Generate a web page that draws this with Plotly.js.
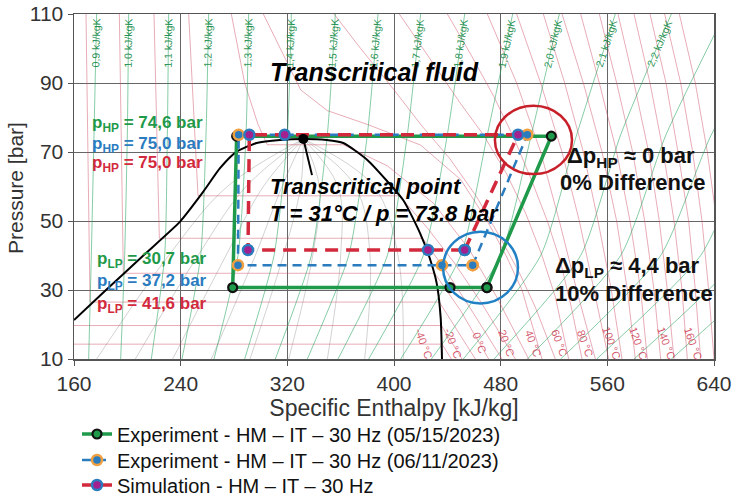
<!DOCTYPE html>
<html><head><meta charset="utf-8">
<script src="https://cdn.plot.ly/plotly-3.0.1.min.js"></script>
<style>html,body{margin:0;padding:0;background:#fff;} #chart{width:734px;height:497px;}</style>
</head><body><div id="chart"></div>
<script>
// ---------------- Cycle data (h in kJ/kg, p in bar) ----------------
const expAName = 'Experiment - HM – IT – 30 Hz (05/15/2023)';
const expAH = [469.7, 518, 282, 279, 442, 469.7];
const expAP = [30.7, 74.6, 74.6, 30.7, 30.7, 30.7];

const expBName = 'Experiment - HM – IT – 30 Hz (06/11/2023)';
const expBH = [459, 500, 283.5, 283, 436, 459];
const expBP = [37.2, 75.0, 75.0, 37.2, 37.2, 37.2];

const simName = 'Simulation - HM – IT – 30 Hz';
const simH = [453, 493, 318, 291.5, 290.5, 425.5, 453];
const simP = [41.6, 75.0, 75.0, 75.0, 41.6, 41.6, 41.6];

const critH = [332];
const critP = [73.8];

// ---------------- Saturation dome ----------------
const domeH = [160, 184, 212, 239.5, 257, 269.5, 282, 297, 314.5, 332, 349.5, 362, 380, 395, 407, 419.5, 427, 432, 435, 436];
const domeP = [21.3, 30, 40, 49.8, 58.5, 65.3, 70.1, 72.6, 73.5, 73.8, 73.5, 72.6, 67.7, 61.5, 56, 46.5, 39, 32, 22, 10];

// ---------------- Isentropes (h at p = 10, 40, 75, 110 bar) ----------------
const isentropeP = [10, 40, 75, 110];
const s0_9 = [171, 173, 175, 177];
const s1_0 = [195, 198, 200, 201];
const s1_1 = [218, 228, 230, 231];
const s1_2 = [241, 255, 259, 261];
const s1_3 = [265, 283, 289, 291];
const s1_4 = [288, 310, 320, 323];
const s1_5 = [311, 338, 350, 356];
const s1_6 = [335, 366, 380, 388];
const s1_7 = [358, 395, 410, 420];
const s1_8 = [381, 422, 440, 453];
const s1_9 = [405, 450, 470, 489];
const s2_0 = [428, 480, 503, 524];
const s2_1 = [452, 510, 537, 566];
const s2_2 = [475, 540, 570, 608];
const s2_3 = [500, 570, 604, 648];
const s2_4 = [525, 600, 638, 690];
const s2_5 = [552, 630, 672, 730];
const s2_6 = [580, 660, 706, 770];
const s2_7 = [608, 690, 740, 810];
const isentropeLabels = ['0,9','1,0','1,1','1,2','1,3','1,4','1,5','1,6','1,7','1,8','1,9','2,0','2,1','2,2'];

// ---------------- Isotherms ----------------
const tm30H = [160, 436, 443];            const tm30P = [14.3, 14.3, 10];
const tm20H = [160, 435.5, 451];          const tm20P = [19.7, 19.7, 10];
const tm10H = [169, 172, 434, 448, 461];  const tm10P = [110, 26.5, 26.5, 18, 10];
const t0H = [194, 197, 430.5, 450, 471];  const t0P = [110, 34.85, 34.85, 24, 10];
const t10H = [220, 224, 421.5, 440, 460, 481]; const t10P = [110, 45, 45, 35, 23, 10];
const t20H = [246, 250, 253, 404, 425, 445, 466, 491]; const t20P = [110, 80, 57.3, 57.3, 48, 38, 26, 10];
const t30H = [278, 288, 298, 305, 362, 395, 430, 456, 477, 501]; const t30P = [110, 90, 78, 72.1, 72.1, 66, 55, 42, 28, 10];
const t40H = [302, 315, 330, 350, 380, 420, 450, 470, 484, 496, 511]; const t40P = [110, 100, 88, 82, 78, 72, 62, 50, 40, 30, 10];
const t50H = [355, 375, 400, 420, 442, 462, 480, 494, 506, 521]; const t50P = [110, 100, 88, 78, 68, 57, 45, 35, 25, 10];
const t60H = [404, 425, 450, 467, 484, 499, 511, 521, 531]; const t60P = [110, 98, 84, 75, 64, 52, 40, 28, 10];
const t70H = [440, 458, 475, 490, 503, 515, 525, 533, 541]; const t70P = [110, 98, 86, 74, 62, 50, 38, 25, 10];
const hotP = [110, 90, 70, 50, 30, 10];
const t80H  = [470, 492, 510, 524, 537, 551];
const t90H  = [492, 510, 526, 539, 550, 561];
const t100H = [512, 528, 542, 553, 563, 571];
const t110H = [526, 542, 556, 567, 575, 581];
const t120H = [540, 554, 567, 577, 585, 590];
const t130H = [554, 567, 579, 588, 595, 600];
const t140H = [568, 580, 591, 599, 605, 610];
const t150H = [580, 592, 602, 610, 616, 620];
const t160H = [592, 604, 613, 621, 626, 630];
const t170H = [603, 615, 624, 631, 636, 640];
const t180H = [614, 626, 635, 642, 646, 650];
const isothermLabels = ['-40 °C','-20 °C','0 °C','20 °C','40 °C','60 °C','80 °C','100 °C','120 °C','140 °C','160 °C'];
const isothermLabelH = [422, 444, 464, 484, 504, 524, 543, 563, 583, 604, 624];

// ---------------- Vapour quality lines (h at p = 10, 40, 60, 73.8 bar) ----------------
const qualityP = [10, 40, 60, 73.8];
const q01 = [177, 231, 275, 332];
const q02 = [206, 253, 289, 332];
const q03 = [234, 274, 302, 332];
const q04 = [263, 296, 316, 332];
const q05 = [292, 317, 330, 332];
const q06 = [321, 339, 344, 332];
const q07 = [350, 360, 358, 332];
const q08 = [378, 382, 371, 332];
const q09 = [407, 403, 385, 332];

// ---------------- Build traces ----------------
function joinLines(list) {
  const x = [], y = [];
  list.forEach(([hs, ps]) => { hs.forEach((h, i) => { x.push(h); y.push(ps[i]); }); x.push(null); y.push(null); });
  return {x, y};
}
const isentropes = [s0_9,s1_0,s1_1,s1_2,s1_3,s1_4,s1_5,s1_6,s1_7,s1_8,s1_9,s2_0,s2_1,s2_2,s2_3,s2_4,s2_5,s2_6,s2_7];
const isoS = joinLines(isentropes.map(h => [h, isentropeP]));
const isotherms = [[tm30H,tm30P],[tm20H,tm20P],[tm10H,tm10P],[t0H,t0P],[t10H,t10P],[t20H,t20P],[t30H,t30P],
  [t40H,t40P],[t50H,t50P],[t60H,t60P],[t70H,t70P],[t80H,hotP],[t90H,hotP],[t100H,hotP],[t110H,hotP],[t120H,hotP],
  [t130H,hotP],[t140H,hotP],[t150H,hotP],[t160H,hotP],[t170H,hotP],[t180H,hotP]];
const isoT = joinLines(isotherms);
const isoQ = joinLines([q01,q02,q03,q04,q05,q06,q07,q08,q09].map(h => [h, qualityP]));

const GREEN = '#1f9a4a', BLUE = '#2b7bbf', RED = '#d22a3c', ORANGE = '#f0a040', PURPLE = '#a3208f';
const FONT = 'Liberation Sans, Arial, Helvetica, sans-serif';

const traces = [
  {x: isoQ.x, y: isoQ.y, mode: 'lines', line: {color: 'rgba(90,90,90,0.35)', width: 0.8, shape: 'spline'}, showlegend: false, hoverinfo: 'skip'},
  {x: isoT.x, y: isoT.y, mode: 'lines', line: {color: 'rgba(205,70,95,0.5)', width: 0.9, shape: 'linear'}, showlegend: false, hoverinfo: 'skip'},
  {x: isoS.x, y: isoS.y, mode: 'lines', line: {color: 'rgba(30,160,90,0.6)', width: 0.9, shape: 'spline', smoothing: 0.6}, showlegend: false, hoverinfo: 'skip'},
  {x: domeH, y: domeP, mode: 'lines', line: {color: '#000', width: 2, shape: 'spline', smoothing: 0.6}, showlegend: false, hoverinfo: 'skip'},
  {x: expAH, y: expAP, name: expAName, mode: 'lines+markers', legend: 'legend',
   line: {color: GREEN, width: 3.5}, marker: {size: 9, color: GREEN, line: {color: '#111', width: 2.2}}},
  {x: expBH, y: expBP, name: expBName, mode: 'lines+markers', legend: 'legend2',
   line: {color: BLUE, width: 2.5, dash: '9px,6px'}, marker: {size: 10, color: BLUE, line: {color: ORANGE, width: 2.5}}},
  {x: simH, y: simP, name: simName, mode: 'lines+markers', legend: 'legend3',
   line: {color: RED, width: 3.5, dash: '13px,8px'}, marker: {size: 10, color: PURPLE, line: {color: BLUE, width: 2.5}}},
  {x: critH, y: critP, mode: 'markers', marker: {size: 10, color: '#000'}, showlegend: false, hoverinfo: 'skip'}
];

// ---------------- Annotations ----------------
const ann = [];
function txt(x, y, text, size, color, opts) {
  ann.push(Object.assign({x, y, xref: 'x', yref: 'y', text, showarrow: false,
    font: {family: FONT, size, color}, xanchor: 'left', yanchor: 'middle'}, opts || {}));
}
isentropeLabels.forEach((lab, i) => {
  const h = isentropes[i];
  const hl = h[2] + (h[3] - h[2]) * (102 - 75) / 35;
  const dx = (h[3] - h[2]) * (640 / 480), dy = 35 * 3.45;
  const ang = -(90 - Math.atan(dx / dy) * 180 / Math.PI);
  txt(hl, 101.5, lab + ' kJ/kgK', 10.5, 'rgba(25,140,75,0.95)', {xanchor: 'center', textangle: ang});
});
isothermLabels.forEach((lab, i) => {
  txt(isothermLabelH[i], 14.5, lab, 11, 'rgba(205,60,85,0.85)', {xanchor: 'center', textangle: 70});
});
txt(385, 93.2, '<b><i>Transcritical fluid</i></b>', 25, '#000', {xanchor: 'center'});
txt(305.5, 59.9, '<b><i>Transcritical point</i></b>', 22, '#000');
txt(305.5, 52.3, '<b><i>T = 31°C / p = 73.8 bar</i></b>', 22, '#000');
txt(172, 78.1, '<b>p<sub>HP</sub> = 74,6 bar</b>', 17, GREEN);
txt(172, 72.0, '<b>p<sub>HP</sub> = 75,0 bar</b>', 17, BLUE);
txt(172, 66.5, '<b>p<sub>HP</sub> = 75,0 bar</b>', 17, RED);
txt(175.5, 38.7, '<b>p<sub>LP</sub> = 30,7 bar</b>', 17, GREEN);
txt(175.5, 32.3, '<b>p<sub>LP</sub> = 37,2 bar</b>', 17, BLUE);
txt(175.5, 25.7, '<b>p<sub>LP</sub> = 41,6 bar</b>', 17, RED);
txt(578, 68.6, '<b>Δp<sub>HP</sub> ≈ 0 bar</b>', 22, '#111', {xanchor: 'center'});
txt(579, 61.3, '<b>0% Difference</b>', 22, '#111', {xanchor: 'center'});
txt(575, 36.7, '<b>Δp<sub>LP</sub> ≈ 4,4 bar</b>', 22, '#111', {xanchor: 'center'});
txt(580, 29.1, '<b>10% Difference</b>', 22, '#111', {xanchor: 'center'});
// y-axis title
ann.push({xref: 'paper', yref: 'paper', x: -0.0906, y: 0.4957, text: 'Pressure [bar]', showarrow: false,
  textangle: -90, xanchor: 'center', yanchor: 'middle', font: {family: FONT, size: 21, color: '#333'}});

const shapes = [
  {type: 'circle', xref: 'x', yref: 'y', x0: 504.6 - 28.9, x1: 504.6 + 28.9, y0: 73.5 - 9.9, y1: 73.5 + 9.9,
   line: {color: '#c8202a', width: 2.5}, layer: 'above'},
  {type: 'circle', xref: 'x', yref: 'y', x0: 464.9 - 28.1, x1: 464.9 + 28.1, y0: 36.5 - 10.4, y1: 36.5 + 10.4,
   line: {color: '#2280c4', width: 2.5}, layer: 'above'},
  {type: 'line', xref: 'x', yref: 'y', x0: 332, y0: 73.8, x1: 338.5, y1: 63.3, line: {color: '#000', width: 2}, layer: 'above'}
];

const axisCommon = {
  showgrid: true, gridcolor: '#666', gridwidth: 1, zeroline: false,
  showline: true, mirror: true, linecolor: '#555', linewidth: 1.5,
  ticks: 'outside', ticklen: 5, tickcolor: '#555', automargin: false, tickangle: 0,
  tickfont: {family: FONT, size: 21, color: '#333'}
};

function legendAt(yPx) {
  return {xref: 'container', yref: 'container', x: 77 / 734, y: 1 - yPx / 497, xanchor: 'left', yanchor: 'middle',
    font: {family: FONT, size: 20, color: '#111'}, bgcolor: 'rgba(0,0,0,0)', itemwidth: 30, borderwidth: 0};
}

const layout = {
  width: 734, height: 497,
  margin: {l: 74, r: 20, t: 14, b: 138, autoexpand: false},
  paper_bgcolor: '#fff', plot_bgcolor: '#fff',
  font: {family: FONT},
  xaxis: Object.assign({}, axisCommon, {range: [160, 640], tick0: 160, dtick: 80,
    title: {text: 'Specific Enthalpy [kJ/kg]', font: {family: FONT, size: 23, color: '#333'}, standoff: 4}}),
  yaxis: Object.assign({}, axisCommon, {range: [10, 110], tick0: 10, dtick: 20}),
  showlegend: true,
  legend: legendAt(434),
  legend2: legendAt(460),
  legend3: legendAt(485),
  annotations: ann,
  shapes: shapes,
  hovermode: false
};

Plotly.newPlot('chart', traces, layout, {displayModeBar: false, staticPlot: true});
</script>
</body></html>
